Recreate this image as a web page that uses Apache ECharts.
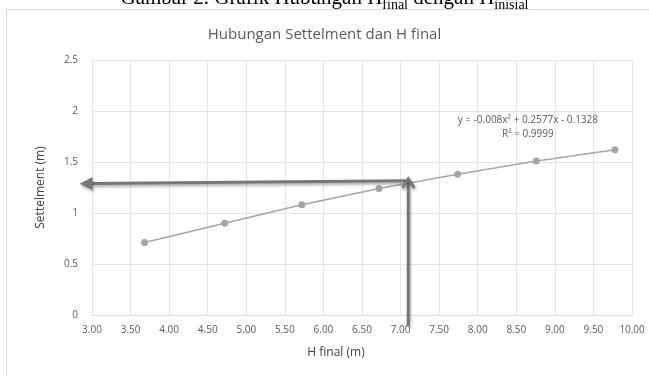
<!DOCTYPE html>
<html><head><meta charset="utf-8">
<script src="https://cdn.jsdelivr.net/npm/echarts@6/dist/echarts.min.js"></script>
<style>html,body{margin:0;padding:0;background:#fff}#c{width:649px;height:376px}</style>
</head><body><div id="c"></div>
<script>
const hFinal = [3.68, 4.72, 5.72, 6.72, 7.74, 8.76, 9.78];
const settlement = [0.71, 0.90, 1.08, 1.24, 1.38, 1.51, 1.62];
const xTicks = {min: 3, max: 10, interval: 0.5};
const yTicks = {min: 0, max: 2.5, interval: 0.5};
// arrows: [fromX, fromY, toX, toY, headStyle]
const arrows = [[7.10, 1.315, 2.84, 1.287, 0], [7.10, -0.10, 7.10, 1.335, 1]];
const eqText = ['y = -0.008x\u00b2 + 0.2577x - 0.1328', 'R\u00b2 = 0.9999'];
const eqPos = [8.65, 1.845];

const chart = echarts.init(document.getElementById('c'));
const txt = '#595959';
const shadow = {shadowBlur: 3, shadowColor: 'rgba(0,0,0,0.35)', shadowOffsetX: 1, shadowOffsetY: 2};
function renderArrow(params, api) {
  const p1 = api.coord([api.value(0), api.value(1)]);
  const p2 = api.coord([api.value(2), api.value(3)]);
  const open = api.value(4) === 1;
  const dx = p2[0] - p1[0], dy = p2[1] - p1[1];
  const len = Math.sqrt(dx * dx + dy * dy);
  const ux = dx / len, uy = dy / len, nx = -uy, ny = ux;
  const hl = open ? 9 : 13, hw = open ? 6 : 6.5;
  const base = [p2[0] - ux * hl, p2[1] - uy * hl];
  const left = [base[0] + nx * hw, base[1] + ny * hw];
  const right = [base[0] - nx * hw, base[1] - ny * hw];
  const shaftEnd = open ? p2 : base;
  const children = [{type: 'line', shape: {x1: p1[0], y1: p1[1], x2: shaftEnd[0], y2: shaftEnd[1]},
    style: Object.assign({stroke: '#777777', lineWidth: 3}, shadow)}];
  if (open) {
    children.push({type: 'polyline', shape: {points: [left, p2, right]},
      style: Object.assign({stroke: '#777777', lineWidth: 3, fill: 'none'}, shadow)});
  } else {
    children.push({type: 'polygon', shape: {points: [p2, left, right]},
      style: Object.assign({fill: '#777777'}, shadow)});
  }
  return {type: 'group', children};
}
chart.setOption({
  backgroundColor: '#fff',
  animation: false,
  textStyle: {fontFamily: 'Open Sans, Noto Sans, sans-serif'},
  title: {text: 'Hubungan Settelment dan H final', left: 'center', top: 22,
    textStyle: {fontSize: 15, fontWeight: 'normal', color: txt, fontFamily: 'Open Sans, Noto Sans, sans-serif'}},
  graphic: [
    {type: 'rect', shape: {x: 6.5, y: 9.5, width: 660, height: 380}, style: {fill: 'none', stroke: '#d9d9d9', lineWidth: 1}, z: -1},
    {type: 'text', left: 'center', top: -12, style: {
      text: '{a|Gambar 2. Grafik Hubungan H}{s|final}{a| dengan H}{s|inisial}',
      rich: {a: {fontFamily: 'Liberation Serif, serif', fontSize: 21, fill: '#000', verticalAlign: 'bottom'},
             s: {fontFamily: 'Liberation Serif, serif', fontSize: 14, fill: '#000', verticalAlign: 'bottom', padding: [0,0,-3,0]}}
    }}
  ],
  grid: {left: 92, right: 17, top: 60, bottom: 61},
  xAxis: {type: 'value', min: xTicks.min, max: xTicks.max, interval: xTicks.interval,
    name: 'H final (m)', nameLocation: 'middle', nameGap: 32,
    nameTextStyle: {fontSize: 12, color: '#404040', padding: [0, 52, 0, 0]},
    axisLine: {show: true, lineStyle: {color: '#d9d9d9'}}, axisTick: {show: false},
    axisLabel: {fontSize: 10, color: txt, margin: 10, formatter: v => v.toFixed(2)},
    splitLine: {show: true, lineStyle: {color: '#e4e4e4'}}},
  yAxis: {type: 'value', min: yTicks.min, max: yTicks.max, interval: yTicks.interval,
    name: 'Settelment (m)', nameLocation: 'middle', nameGap: 45, nameRotate: 90,
    nameTextStyle: {fontSize: 12, color: '#404040'},
    axisLine: {show: false}, axisTick: {show: false},
    axisLabel: {fontSize: 10, color: txt, margin: 14, formatter: v => String(v)},
    splitLine: {show: true, lineStyle: {color: '#e4e4e4'}}},
  series: [{
    type: 'line', data: hFinal.map((x, i) => [x, settlement[i]]),
    symbol: 'circle', symbolSize: 7, clip: false, z: 2,
    lineStyle: {color: '#a5a5a5', width: 1.5}, itemStyle: {color: '#a5a5a5'},
    markPoint: {silent: true, symbol: 'rect', symbolSize: 1, itemStyle: {color: 'rgba(0,0,0,0)'},
      label: {show: true, formatter: eqText.join('\n'), color: txt, fontSize: 10, lineHeight: 14, align: 'center'},
      data: [{coord: eqPos}]}
  }, {
    type: 'custom', renderItem: renderArrow, clip: false, silent: true, z: 3,
    encode: {x: [0, 2], y: [1, 3]},
    data: arrows
  }]
});
</script></body></html>
